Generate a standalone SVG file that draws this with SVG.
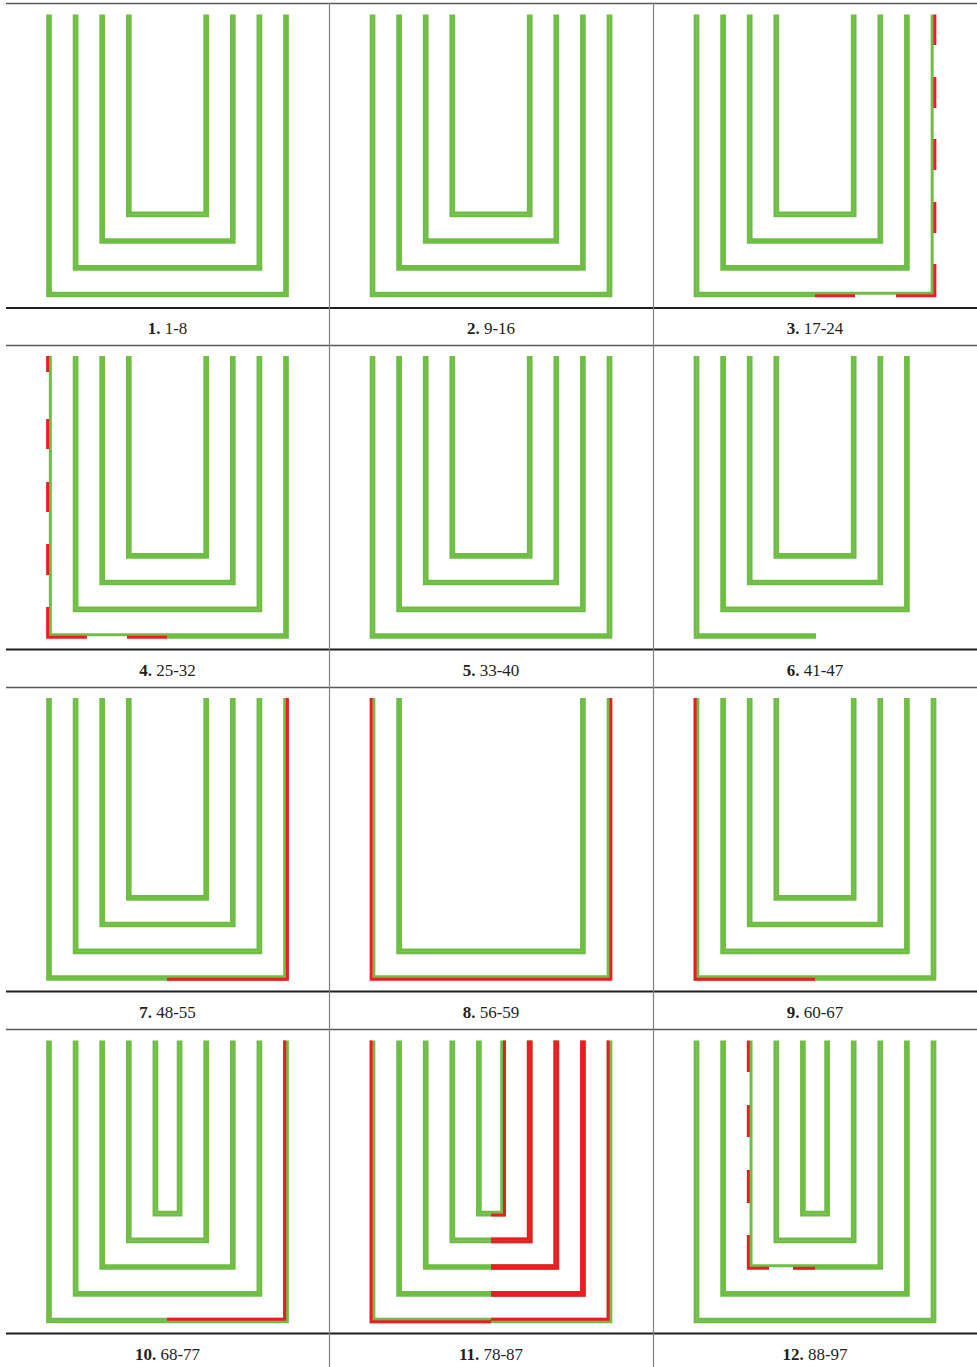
<svg xmlns="http://www.w3.org/2000/svg" xmlns:xlink="http://www.w3.org/1999/xlink" width="977" height="1367" viewBox="0 0 977 1367">
<style>
.g{stroke:#6fbe44;stroke-width:3;fill:none}
.r{stroke:#ec1c24;stroke-width:3;fill:none}
.rule{stroke:#231f20;stroke-width:2}
.thin{stroke:#58595b;stroke-width:1.6}
.vr{stroke:#808285;stroke-width:1.2}
.lbl{font-family:"Liberation Serif","DejaVu Serif",serif;font-size:17px;fill:#231f20;text-anchor:middle}
.b{font-weight:bold}
</style>
<defs>
<path id="u1o" d="M47.65,14.5 V295.85 H287.35 V14.5"/>
<path id="u1i" d="M50.35,14.5 V293.15 H284.65 V14.5"/>
<path id="u2o" d="M74.25,14.5 V269.15 H260.75 V14.5"/>
<path id="u2i" d="M76.95,14.5 V266.45 H258.05 V14.5"/>
<path id="u3o" d="M100.85,14.5 V242.35 H234.15 V14.5"/>
<path id="u3i" d="M103.55,14.5 V239.65 H231.45 V14.5"/>
<path id="u4o" d="M127.45,14.5 V215.65 H207.55 V14.5"/>
<path id="u4i" d="M130.15,14.5 V212.95 H204.85 V14.5"/>
<path id="u5o" d="M154.05,14.5 V188.95 H180.95 V14.5"/>
<path id="u5i" d="M156.75,14.5 V186.25 H178.25 V14.5"/>
<g id="in3">
<use href="#u2o" class="g"/><use href="#u2i" class="g"/>
<use href="#u3o" class="g"/><use href="#u3i" class="g"/>
<use href="#u4o" class="g"/><use href="#u4i" class="g"/>
</g>
<g id="set4">
<use href="#u1o" class="g"/><use href="#u1i" class="g"/>
<use href="#in3"/>
</g>
<g id="set5">
<use href="#set4"/>
<use href="#u5o" class="g"/><use href="#u5i" class="g"/>
</g>
</defs>
<rect x="0" y="0" width="977" height="1367" fill="#ffffff"/>
<g id="grid">
<line class="thin" x1="6" y1="3.5" x2="977" y2="3.5"/>
<line class="rule" x1="6" y1="308" x2="977" y2="308"/>
<line class="thin" x1="6" y1="345.5" x2="977" y2="345.5"/>
<line class="rule" x1="6" y1="649.5" x2="977" y2="649.5"/>
<line class="thin" x1="6" y1="687.5" x2="977" y2="687.5"/>
<line class="rule" x1="6" y1="991.5" x2="977" y2="991.5"/>
<line class="thin" x1="6" y1="1029.5" x2="977" y2="1029.5"/>
<line class="rule" x1="6" y1="1333.5" x2="977" y2="1333.5"/>
<line class="vr" x1="329.5" y1="3" x2="329.5" y2="1367"/>
<line class="vr" x1="653.5" y1="3" x2="653.5" y2="1367"/>
</g>
<g id="cell-1" transform="translate(0,0)">
<use href="#set4"/>
<text class="lbl" x="167.5" y="334"><tspan class="b">1.</tspan> 1-8</text>
</g>
<g id="cell-2" transform="translate(323.5,0)">
<use href="#set4"/>
<text class="lbl" x="167.5" y="334"><tspan class="b">2.</tspan> 9-16</text>
</g>
<g id="cell-3" transform="translate(647.5,0)">
<use href="#in3"/>
<use href="#u1i" class="g"/>
<path class="g" d="M47.65,14.5 V295.85 H167.5"/>
<path class="r" d="M167.5,295.85 H207.5"/>
<path class="r" d="M248.5,295.85 H287.35 V264"/>
<path class="r" d="M287.35,233 V202 M287.35,170 V139 M287.35,108 V77 M287.35,45 V14.5"/>
<text class="lbl" x="167.5" y="334"><tspan class="b">3.</tspan> 17-24</text>
</g>
<g id="cell-4" transform="translate(0,341.5)">
<use href="#in3"/>
<use href="#u1i" class="g"/>
<path class="g" d="M167,295.85 H287.35 V14.5"/>
<path class="r" d="M47.65,14.5 V30.5 M47.65,77.5 V107.5 M47.65,140.5 V170.5 M47.65,202.5 V233.5"/>
<path class="r" d="M47.65,265.5 V295.85 H87"/>
<path class="r" d="M127,295.85 H167"/>
<text class="lbl" x="167.5" y="334.5"><tspan class="b">4.</tspan> 25-32</text>
</g>
<g id="cell-5" transform="translate(323.5,341.5)">
<use href="#set4"/>
<text class="lbl" x="167.5" y="334.5"><tspan class="b">5.</tspan> 33-40</text>
</g>
<g id="cell-6" transform="translate(647.5,341.5)">
<use href="#in3"/>
<path class="g" d="M47.65,14.5 V295.85 H168.5"/>
<path class="g" d="M50.35,14.5 V293.15 H168.5"/>
<text class="lbl" x="167.5" y="334.5"><tspan class="b">6.</tspan> 41-47</text>
</g>
<g id="cell-7" transform="translate(0,683.5)">
<use href="#set4"/>
<path class="r" d="M167,295.85 H287.35 V14.5"/>
<text class="lbl" x="167.5" y="334.5"><tspan class="b">7.</tspan> 48-55</text>
</g>
<g id="cell-8" transform="translate(323.5,683.5)">
<use href="#u1i" class="g"/><use href="#u1o" class="r"/>
<use href="#u2o" class="g"/><use href="#u2i" class="g"/>
<text class="lbl" x="167.5" y="334.5"><tspan class="b">8.</tspan> 56-59</text>
</g>
<g id="cell-9" transform="translate(647.5,683.5)">
<use href="#set4"/>
<path class="r" d="M47.65,14.5 V295.85 H167.5"/>
<text class="lbl" x="167.5" y="334.5"><tspan class="b">9.</tspan> 60-67</text>
</g>
<g id="cell-10" transform="translate(0,1026)">
<use href="#set5"/>
<path class="r" d="M167,293.15 H284.65 V14.5"/>
<text class="lbl" x="167.5" y="334"><tspan class="b">10.</tspan> 68-77</text>
</g>
<g id="cell-11" transform="translate(323.5,1026)">
<use href="#set5"/>
<path class="r" d="M47.65,14.5 V295.85 H167.5"/>
<path class="r" d="M167.5,293.15 H284.65 V14.5"/>
<path class="r" d="M167.5,269.15 H260.75 V14.5"/>
<path class="r" d="M167.5,266.45 H258.05 V14.5"/>
<path class="r" d="M167.5,242.35 H234.15 V14.5"/>
<path class="r" d="M167.5,239.65 H231.45 V14.5"/>
<path class="r" d="M167.5,215.65 H207.55 V14.5"/>
<path class="r" d="M167.5,212.95 H204.85 V14.5"/>
<path class="r" d="M167.5,188.95 H180.95 V14.5"/>
<text class="lbl" x="167.5" y="334"><tspan class="b">11.</tspan> 78-87</text>
</g>
<g id="cell-12" transform="translate(647.5,1026)">
<use href="#u1o" class="g"/><use href="#u1i" class="g"/>
<use href="#u2o" class="g"/><use href="#u2i" class="g"/>
<use href="#u3i" class="g"/>
<use href="#u4o" class="g"/><use href="#u4i" class="g"/>
<use href="#u5o" class="g"/><use href="#u5i" class="g"/>
<path class="g" d="M167.5,242.35 H234.15 V14.5"/>
<path class="r" d="M100.85,14.5 V46 M100.85,79 V111 M100.85,144 V177"/>
<path class="r" d="M100.85,209 V242.35 H121.5"/>
<path class="r" d="M145.5,242.35 H167.5"/>
<text class="lbl" x="167.5" y="334"><tspan class="b">12.</tspan> 88-97</text>
</g>
</svg>
